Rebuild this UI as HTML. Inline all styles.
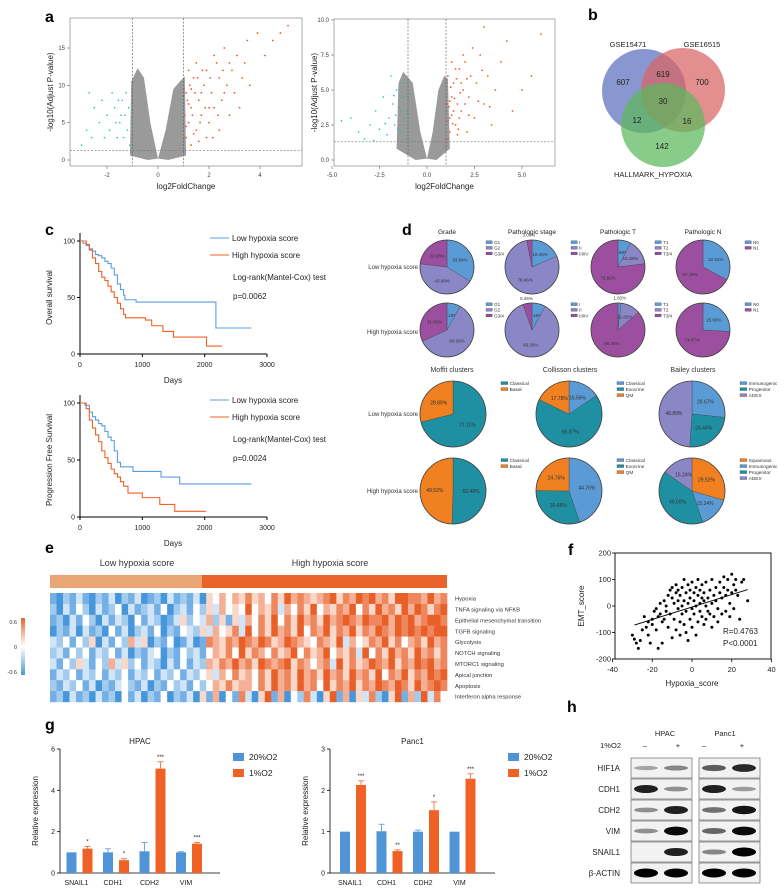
<!DOCTYPE html>
<html><head><meta charset="utf-8"><style>
html,body{margin:0;padding:0;background:#fff;}
svg{display:block;font-family:"Liberation Sans",Arial,sans-serif;}
</style></head><body>
<svg id="fig" width="784" height="888" viewBox="0 0 784 888" xmlns="http://www.w3.org/2000/svg"></svg>
<script>
// ===== DATA =====
const volLOrange = [[1.1,3],[1.2,5],[1.3,7],[1.1,9],[1.4,11],[1.5,4],[1.6,8],[1.7,6],[1.8,10],[1.9,12],[2.0,5],[2.1,9],[2.2,7],[2.3,13],[2.4,11],[2.5,8],[2.6,15],[2.7,10],[2.8,6],[2.9,12],[3.0,9],[3.1,14],[3.3,11],[3.5,16],[3.6,10],[3.9,17],[4.2,14],[4.5,16],[4.8,17],[5.1,18],[1.2,12],[1.3,2],[1.5,13],[1.6,2.5],[1.9,3],[2.2,14],[2.4,4],[1.05,6],[1.15,8],[1.25,10],[1.35,6],[1.45,9],[1.55,11],[1.65,5],[1.75,12],[1.85,7],[2.05,11],[2.15,3],[2.35,6],[2.55,12],[3.2,7],[3.4,13],[1.1,4.5],[1.2,7.5],[1.3,9.5],[1.4,3.5],[1.7,9],[2.0,7],[2.6,9],[2.8,13]];
const volLCyan = [[-1.1,2],[-1.2,4],[-1.3,6],[-1.4,8],[-1.5,5],[-1.6,3],[-1.7,7],[-1.8,9],[-1.9,4],[-2.0,6],[-2.1,3],[-2.3,5],[-2.5,7],[-2.7,9],[-2.8,4],[-3.0,2],[-1.15,7],[-1.25,9],[-1.35,3],[-1.45,6],[-1.55,8],[-1.65,5],[-2.2,8],[-2.6,3],[-1.05,5]];
const volLGrayLeft = [[-1.1,0.6],[-1.05,10.5],[-0.8,12.3],[-0.55,11],[-0.3,5],[0,0.2],[-0.4,0]];
const volLGrayRight = [[0,0.2],[0.3,4],[0.6,9.5],[0.85,10.5],[1.05,11.2],[1.1,0.6],[0.4,0]];
const volROrange = [[1.1,1.5],[1.2,3],[1.3,4.5],[1.1,6],[1.4,5.5],[1.5,2.5],[1.6,4],[1.7,6.5],[1.8,3.5],[1.9,5],[2.0,7],[2.1,2],[2.2,4.5],[2.3,6],[2.4,8],[2.5,3],[2.6,5.5],[2.8,7.5],[3.0,4],[3.2,6],[3.4,2.5],[3.6,5],[3.9,7],[4.2,8.5],[4.5,3.5],[5.0,5],[5.5,6],[6.0,9],[3.0,9.5],[1.2,2],[1.3,7],[1.4,3.5],[1.5,6.5],[1.6,1.8],[1.7,3],[1.8,5.5],[1.9,7.5],[2.0,4],[2.1,5.8],[2.2,3.2],[1.15,3.8],[1.25,5.2],[1.35,2.6],[1.45,4.4],[1.55,5.8],[1.65,2.2],[1.75,4.8],[2.7,4.2],[2.9,6.4],[3.3,3.8],[1.05,4],[1.1,2.8],[1.2,4.2],[1.3,3.2]];
const volRCyan = [[-1.1,1.5],[-1.2,3],[-1.3,4.5],[-1.4,2],[-1.5,3.8],[-1.6,5],[-1.7,2.5],[-1.8,4],[-1.9,6],[-2.0,3],[-2.1,1.8],[-2.3,4.5],[-2.5,2.2],[-2.7,3.5],[-3.0,2.5],[-3.3,1.5],[-3.6,2],[-4.0,3],[-4.5,2.8],[-1.15,2.5],[-1.25,5.5],[-1.35,3.5],[-1.45,5],[-1.55,2.2],[-1.65,3.2],[-1.75,4.6],[-2.2,2.6],[-1.05,3.4],[-1.1,4.6],[-2.8,1.4]];
const volRGrayLeft = [[-1.6,0.8],[-1.5,5.5],[-1.25,6.3],[-0.75,5.5],[-0.35,2],[0,0.1],[-0.6,0]];
const volRGrayRight = [[0,0.1],[0.3,2],[0.6,5],[0.9,6],[1.1,5.8],[1.2,0.8],[0.5,0]];
const vennLabels = ["607","619","700","30","12","16","142"];
const kmOSLow = [[0,100],[50,98],[100,96],[150,93],[200,91],[250,88],[300,87],[350,85],[400,82],[450,80],[500,76],[550,70],[600,62],[650,57],[700,52],[720,48],[900,46],[2180,46],[2180,23],[2750,23]];
const kmOSHigh = [[0,100],[100,97],[150,92],[200,85],[250,80],[300,73],[350,68],[400,65],[450,60],[500,55],[550,50],[600,45],[650,40],[700,35],[730,32],[1000,32],[1050,30],[1150,25],[1330,25],[1330,20],[1500,15],[2030,15],[2030,7],[2280,7]];
const kmPFSLow = [[0,100],[80,98],[150,92],[200,88],[250,85],[300,82],[350,80],[400,75],[450,70],[500,67],[550,58],[600,48],[650,44],[850,40],[1300,40],[1300,35],[1600,35],[1600,29],[2750,29]];
const kmPFSHigh = [[0,100],[100,95],[150,85],[200,78],[250,72],[300,66],[350,58],[400,52],[450,47],[500,42],[550,38],[600,35],[650,31],[700,27],[770,21],[1000,17],[1280,17],[1280,11],[1520,11],[1520,5],[2020,5]];
const kmXTicks = [0,1000,2000,3000];
const kmYTicks = [0,50,100];
const gradeLow=[33.84,43.08,23.08], gradeHigh=[8.18,60.00,31.82];
const stageLow=[18.46,78.46,3.08], stageHigh=[8.18,86.36,5.45];
const tLow=[7.69,15.38,76.92], tHigh=[1.82,11.82,86.36];
const nLow=[32.81,67.19], nHigh=[25.93,74.07];
const moffitLow=[71.11,28.89], moffitHigh=[50.48,49.52];
const collLow=[15.56,66.67,17.78], collHigh=[44.76,30.48,24.76];
const baileyLow=[26.67,24.44,48.89], baileyHigh=[29.52,15.24,40.00,15.24];
const heatRows = ["Hypoxia","TNFA signaling via NFKB","Epithelial mesenchymal transition","TGFB signaling","Glycolysis","NOTCH signaling","MTORC1 signaling","Apical junction","Apoptosis","Interferon alpha response"];
const heatVals = [
"1021310213021301203121305464657564758676567857687867588776867",
"2031420312403123140231425364548465736475846576847586758687578",
"1203142031320413201352436251536475847586758678768778687867887",
"0213031204130231402143253645738475867584768576857687687878788",
"3241425031426350214013017657687687568765476583645768574675867",
"2314241324130213402142314657485764756847568465738475867586757",
"3142531426352413203141326576867587678576467385756876857687867",
"1324132413241324132413245364756475867586758675867584768576878",
"2132413021342130214231424657566475867586748576857687687586787",
"1203120312041302140213051604173058160427305816053720581628374"];
const scatHyp = [-30,-29,-28,-27,-26,-25,-24,-23,-22,-22,-21,-20,-20,-19,-18,-18,-17,-17,-16,-16,-15,-15,-14,-14,-13,-13,-12,-12,-11,-11,-10,-10,-10,-9,-9,-8,-8,-8,-7,-7,-7,-6,-6,-6,-5,-5,-5,-4,-4,-4,-3,-3,-3,-2,-2,-2,-1,-1,-1,0,0,0,1,1,1,2,2,2,3,3,3,4,4,4,5,5,5,6,6,6,7,7,7,8,8,9,9,10,10,10,11,11,12,12,13,13,14,14,15,15,16,16,17,17,18,18,19,19,20,20,21,21,22,22,23,24,25,26,28];
const scatEMT = [-110,-125,-140,-160,-130,-90,-40,-80,-60,-110,-140,-50,-70,-20,-90,-10,-160,-40,-30,10,-60,-140,20,-50,0,-20,40,-80,60,-30,30,-120,70,10,-50,80,50,-90,20,-10,60,40,-60,-110,70,0,-30,100,-70,20,50,-100,-20,80,-130,10,30,-50,60,-10,90,-80,20,-30,50,70,0,-110,40,-60,100,10,-20,60,-40,30,80,-70,20,50,0,-50,90,30,-20,60,-30,100,10,-80,40,-40,70,20,-10,-60,50,90,30,-30,70,110,-20,40,60,100,10,-40,120,50,80,-10,100,60,40,-50,90,100,20];
const fitLine = [[-29,-72],[28,62]];
const geneCats = ["SNAIL1","CDH1","CDH2","VIM"];
const hpacNorm=[1.0,1.0,1.05,1.0], hpacNormErr=[0,0.17,0.42,0.03];
const hpacHyp=[1.18,0.62,5.05,1.42], hpacHypErr=[0.1,0.07,0.33,0.05], hpacSig=["*","*","***","***"];
const panNorm=[1.0,1.01,1.0,1.0], panNormErr=[0,0.17,0.04,0];
const panHyp=[2.13,0.53,1.52,2.28], panHypErr=[0.1,0.03,0.2,0.12], panSig=["***","**","*","***"];
const hpacTicks=[0,2,4,6], panTicks=[0,1,2,3];
const blotRows=["HIF1A","CDH1","CDH2","VIM","SNAIL1","β-ACTIN"];
const blotHPAC=[[0.2,0.35],[0.85,0.3],[0.3,0.85],[0.3,0.95],[0,0.85],[1,1]];
const blotPanc=[[0.55,0.8],[0.85,0.25],[0.45,0.9],[0.5,0.95],[0.35,1],[1,1]];

// ===== HELPERS =====
const NS="http://www.w3.org/2000/svg";
const svg=document.getElementById('fig');
function mk(tag,attrs,parent){const e=document.createElementNS(NS,tag);for(const k in attrs)e.setAttribute(k,attrs[k]);(parent||svg).appendChild(e);return e;}
function txt(x,y,s,size,name,opts){opts=opts||{};const e=mk('text',{x:x,y:y,'font-size':size,fill:opts.fill||'#222','text-anchor':opts.anchor||'start'},opts.parent);
if(opts.bold)e.setAttribute('font-weight','bold');
if(opts.rot)e.setAttribute('transform','rotate(-90 '+x+' '+y+')');
e.textContent=s;


return e;}
function line(x1,y1,x2,y2,st,w,name,dash){const e=mk('line',{x1:x1,y1:y1,x2:x2,y2:y2,stroke:st,'stroke-width':w});if(dash)e.setAttribute('stroke-dasharray',dash);


return e;}

[['a',45,22],['b',588,20],['c',45,235],['d',402,235],['e',45,553],['f',568,555],['g',45,730],['h',567,712]].forEach(p=>{txt(p[1],p[2],p[0],16,'panel-label-'+p[0],{bold:true,fill:'#000'});});

// ===== VOLCANO =====
function volcano(box,xs,ys,xt,yt,xtl,ytl,orange,cyan,grays,vlines,hline,tag){
 const sx=v=>box.x0+(v-xs[0])*(box.x1-box.x0)/(xs[1]-xs[0]);
 const sy=v=>box.y0-(v-ys[0])*(box.y0-box.y1)/(ys[1]-ys[0]);
 const r=mk('rect',{x:box.l,y:box.t,width:box.r-box.l,height:box.b-box.t,fill:'#fff',stroke:'#999','stroke-width':0.8});
 
 
 grays.forEach(gray=>{
  const g=mk('polygon',{points:gray.map(p=>sx(p[0])+','+sy(p[1])).join(' '),fill:'#9a9a9a'});
  
  });
 orange.forEach(p=>{const c=mk('circle',{cx:sx(p[0]),cy:sy(p[1]),r:0.9,fill:'#f05a28'});
  
  });
 cyan.forEach(p=>{const c=mk('circle',{cx:sx(p[0]),cy:sy(p[1]),r:0.8,fill:'#2ab7c0'});
  
  });
 vlines.forEach(v=>line(sx(v),box.t,sx(v),box.b,'#555',0.6,tag+'-fc-threshold','2,1.5'));
 line(box.l,sy(hline),box.r,sy(hline),'#777',0.6,tag+'-p-threshold','2,1.5');
 xt.forEach((v,i)=>{line(sx(v),box.b,sx(v),box.b+3,'#666',0.6,tag+'-x-tick');txt(sx(v),box.b+11,xtl[i],6,tag+'-x-tick-label',{anchor:'middle',fill:'#444'});});
 yt.forEach((v,i)=>{line(box.l-3,sy(v),box.l,sy(v),'#666',0.6,tag+'-y-tick');txt(box.l-5,sy(v)+2,ytl[i],6,tag+'-y-tick-label',{anchor:'end',fill:'#444'});});
 txt((box.l+box.r)/2,box.b+23,'log2FoldChange',8,tag+'-x-axis-title',{anchor:'middle'});
 txt(box.l-17,(box.t+box.b)/2,'-log10(Adjust P-value)',8,tag+'-y-axis-title',{anchor:'middle',rot:true});
}
volcano({l:70,r:302,t:18,b:166,x0:158,x1:209,y0:160,y1:48},[0,2],[0,15],[-2,0,2,4],[0,5,10,15],['-2','0','2','4'],['0','5','10','15'],volLOrange,volLCyan,[volLGrayLeft,volLGrayRight],[-1,1],1.3,'volcano-left');
volcano({l:334,r:555,t:19,b:166,x0:427,x1:522,y0:160,y1:20},[0,5],[0,10],[-5,-2.5,0,2.5,5],[0,2.5,5,7.5,10],['-5.0','-2.5','0.0','2.5','5.0'],['0.0','2.5','5.0','7.5','10.0'],volROrange,volRCyan,[volRGrayLeft,volRGrayRight],[-1,1],1.3,'volcano-right');

// ===== VENN =====
[[644,91,'#5b6fbf','circle-gse15471'],[683,90,'#d96464','circle-gse16515'],[663,125,'#5cb85c','circle-hallmark-hypoxia']].forEach(c=>{
 const e=mk('circle',{cx:c[0],cy:c[1],r:42,fill:c[2],'fill-opacity':0.72});
 
 });
txt(628,47,'GSE15471',7.5,'venn-label-gse15471',{anchor:'middle'});
txt(702,47,'GSE16515',7.5,'venn-label-gse16515',{anchor:'middle'});
txt(653,177,'HALLMARK_HYPOXIA',7.5,'venn-label-hallmark',{anchor:'middle'});
[[623,85],[663,77],[702,85],[663,104],[637,123],[687,124],[662,149]].forEach((p,i)=>txt(p[0],p[1],vennLabels[i],8,'venn-count',{anchor:'middle'}));

// ===== KM =====
function km(y0,y100,low,high,ylab,pval,tag){
 const sx=v=>80+v*(267-80)/3000, sy=v=>y0-v*(y0-y100)/100;
 line(80,y100-8,80,y0,'#000',1,tag+'-y-axis');line(80,y0,267,y0,'#000',1,tag+'-x-axis');
 kmXTicks.forEach(v=>{line(sx(v),y0,sx(v),y0+3,'#000',1,tag+'-x-tick');txt(sx(v),y0+13,String(v),7,tag+'-x-tick-label',{anchor:'middle'});});
 kmYTicks.forEach(v=>{line(77,sy(v),80,sy(v),'#000',1,tag+'-y-tick');txt(75,sy(v)+2.5,String(v),7,tag+'-y-tick-label',{anchor:'end'});});
 txt(173,y0+29,'Days',8,tag+'-x-axis-title',{anchor:'middle'});
 txt(52,(y0+y100)/2,ylab,8,tag+'-y-axis-title',{anchor:'middle',rot:true});
 [[low,'#5a9ee0','low'],[high,'#f06125','high']].forEach(s=>{
  let d='M'+sx(s[0][0][0])+','+sy(s[0][0][1]);
  for(let i=1;i<s[0].length;i++){d+=' H'+sx(s[0][i][0])+' V'+sy(s[0][i][1]);}
  const p=mk('path',{d:d,fill:'none',stroke:s[1],'stroke-width':1.1});
  
  });
 line(210,y100-3,229,y100-3,'#5a9ee0',1,tag+'-legend-low-swatch');
 txt(232,y100,'Low hypoxia score',8,tag+'-legend-low');
 line(210,y100+14,229,y100+14,'#f06125',1,tag+'-legend-high-swatch');
 txt(232,y100+17,'High hypoxia score',8,tag+'-legend-high');
 txt(233,y100+39,'Log-rank(Mantel-Cox) test',8,tag+'-test-label');
 txt(233,y100+58,pval,8,tag+'-p-value');
}
km(354,241,kmOSLow,kmOSHigh,'Overall survival','p=0.0062','km-os');
km(517,403,kmPFSLow,kmPFSHigh,'Progression Free Survival','p=0.0024','km-pfs');

// ===== PIES =====
function pie(cx,cy,r,vals,cols,tag,fs){
 let a=-Math.PI/2;const tot=vals.reduce((s,v)=>s+v,0);
 vals.forEach((v,i)=>{const a2=a+v/tot*2*Math.PI;
  const x1=cx+r*Math.cos(a),y1=cy+r*Math.sin(a),x2=cx+r*Math.cos(a2),y2=cy+r*Math.sin(a2);
  const big=(a2-a)>Math.PI?1:0;
  const p=mk('path',{d:`M${cx},${cy} L${x1},${y1} A${r},${r} 0 ${big} 1 ${x2},${y2} Z`,fill:cols[i],stroke:'#333','stroke-width':0.3});
  
  
  const m=(a+a2)/2, lr=v<6?r+5:r*0.55;
  txt(cx+lr*Math.cos(m),cy+lr*Math.sin(m)+1.5,v.toFixed(2)+'%',fs,tag+'-slice-label',{anchor:'middle',fill:'#333'});
  a=a2;});
 const o=mk('circle',{cx:cx,cy:cy,r:r,fill:'none',stroke:'#444','stroke-width':0.8});
 
 
}
function legend(x,y,items,cols,fs,tag){items.forEach((s,i)=>{const r=mk('rect',{x:x,y:y+i*fs*1.25-fs*0.7,width:fs*1.4,height:fs*0.6,fill:cols[i],stroke:'#333','stroke-width':0.3});
 
 
 txt(x+fs*1.8,y+i*fs*1.25,s,fs,tag+'-legend-label',{fill:'#333'});});}
const B='#5b9bd5',L='#8b86c6',P='#9c4f9f',T='#1f8fa2',O='#f08020';
txt(447,234,'Grade',6.5,'pie-title-grade',{anchor:'middle'});
txt(532,234,'Pathologic stage',6.5,'pie-title-stage',{anchor:'middle'});
txt(618,234,'Pathologic T',6.5,'pie-title-t',{anchor:'middle'});
txt(703,234,'Pathologic N',6.5,'pie-title-n',{anchor:'middle'});
[[267,'Low hypoxia score'],[332,'High hypoxia score'],[414,'Low hypoxia score'],[491,'High hypoxia score']].forEach(r=>txt(418,r[0]+2,r[1],6,'pie-row-label',{anchor:'end',fill:'#333'}));
pie(447,267,27,gradeLow,[B,L,P],'grade-low',4.5);pie(447,330,27,gradeHigh,[B,L,P],'grade-high',4.5);
pie(532,267,27,stageLow,[B,L,P],'stage-low',4.5);pie(532,330,27,stageHigh,[B,L,P],'stage-high',4.5);
pie(618,267,27,tLow,[B,L,P],'t-low',4.5);pie(618,330,27,tHigh,[B,L,P],'t-high',4.5);
pie(703,267,27,nLow,[B,P],'n-low',4.5);pie(703,330,27,nHigh,[B,P],'n-high',4.5);
legend(486,244,['G1','G2','G3/4'],[B,L,P],4.5,'grade-low');legend(486,306,['G1','G2','G3/4'],[B,L,P],4.5,'grade-high');
legend(571,244,['I','II','III/IV'],[B,L,P],4.5,'stage-low');legend(571,306,['I','II','III/IV'],[B,L,P],4.5,'stage-high');
legend(655,244,['T1','T2','T3/4'],[B,L,P],4.5,'t-low');legend(655,306,['T1','T2','T3/4'],[B,L,P],4.5,'t-high');
legend(745,244,['N0','N1'],[B,P],4.5,'n-low');legend(745,306,['N0','N1'],[B,P],4.5,'n-high');
txt(452,372,'Moffit  clusters',7,'pie-title-moffit',{anchor:'middle',fill:'#333'});
txt(570,372,'Collisson clusters',7,'pie-title-collisson',{anchor:'middle',fill:'#333'});
txt(693,372,'Bailey clusters',7,'pie-title-bailey',{anchor:'middle',fill:'#333'});
pie(453,414,33,moffitLow,[T,O],'moffit-low',5);pie(453,491,33,moffitHigh,[T,O],'moffit-high',5);
pie(569,414,33,collLow,[B,T,O],'collisson-low',5);pie(569,491,33,collHigh,[B,T,O],'collisson-high',5);
pie(692,414,33,baileyLow,[B,T,L],'bailey-low',5);pie(692,491,33,baileyHigh,[O,B,T,L],'bailey-high',5);
legend(501,385,['Classical','Basal'],[T,O],4.8,'moffit-low');legend(501,462,['Classical','Basal'],[T,O],4.8,'moffit-high');
legend(617,385,['Classical','Exocrine','QM'],[B,T,O],4.8,'collisson-low');legend(617,462,['Classical','Exocrine','QM'],[B,T,O],4.8,'collisson-high');
legend(740,385,['Immunogenic','Progenitor','ADEX'],[B,T,L],4.8,'bailey-low');legend(740,462,['Squamous','Immunogenic','Progenitor','ADEX'],[O,B,T,L],4.8,'bailey-high');

// ===== HEATMAP =====
function heatColor(d){const v=(d-4)/4;
 if(v<0){const t=-v;return `rgb(${Math.round(255-(255-70)*t)},${Math.round(255-(255-150)*t)},${Math.round(255-(255-220)*t)})`;}
 const t=v;return `rgb(${Math.round(255-(255-232)*t)},${Math.round(255-(255-95)*t)},${Math.round(255-(255-40)*t)})`;}
const hx0=50,hx1=447,hy0=593,hy1=702,hsplit=202;
txt(137,566,'Low hypoxia score',9,'heatmap-group-low-title',{anchor:'middle',fill:'#333'});
txt(330,566,'High hypoxia score',9,'heatmap-group-high-title',{anchor:'middle',fill:'#333'});
(function(){const a=mk('rect',{x:hx0,y:575,width:hsplit-hx0,height:13,fill:'#eaa574'});


const b=mk('rect',{x:hsplit,y:575,width:hx1-hsplit,height:13,fill:'#e8622a'});

})();
const rh=(hy1-hy0)/heatVals.length;
heatVals.forEach((row,ri)=>{const n=row.length,cw=(hx1-hx0)/n;
 for(let ci=0;ci<n;ci++){const c=mk('rect',{x:hx0+ci*cw,y:hy0+ri*rh,width:cw+0.3,height:rh+0.2,fill:heatColor(+row[ci])});
  
  }
 txt(455,hy0+ri*rh+rh*0.7,heatRows[ri],5.8,'heatmap-row-label',{fill:'#333'});});
(function(){const d=mk('defs',{});const lg=mk('linearGradient',{id:'hg',x1:0,y1:0,x2:0,y2:1},d);
mk('stop',{offset:'0','stop-color':'#e8622a'},lg);mk('stop',{offset:'0.5','stop-color':'#fff'},lg);mk('stop',{offset:'1','stop-color':'#4a98dc'},lg);
const r=mk('rect',{x:21,y:618,width:4,height:57,fill:'url(#hg)'});

})();
txt(17,624,'0.6',5.5,'color-scale-label',{anchor:'end',fill:'#333'});
txt(17,649,'0',5.5,'color-scale-label',{anchor:'end',fill:'#333'});
txt(17,674,'-0.6',5.5,'color-scale-label',{anchor:'end',fill:'#333'});

// ===== SCATTER f =====
(function(){const sx=v=>692+v*(771-612)/80, sy=v=>606-v*26.5/100;
const r=mk('rect',{x:615,y:553,width:156,height:106,fill:'none',stroke:'#000','stroke-width':0.9});


[-40,-20,0,20,40].forEach(v=>{line(sx(v),659,sx(v),662,'#000',0.8,'scatter-x-tick');txt(sx(v),672,String(v),7.5,'scatter-x-tick-label',{anchor:'middle'});});
[-200,-100,0,100,200].forEach(v=>{line(612,sy(v),615,sy(v),'#000',0.8,'scatter-y-tick');txt(611,sy(v)+2.5,String(v),7.5,'scatter-y-tick-label',{anchor:'end'});});
txt(692,686,'Hypoxia_score',8,'scatter-x-axis-title',{anchor:'middle'});
txt(584,606,'EMT_score',8,'scatter-y-axis-title',{anchor:'middle',rot:true});
scatHyp.forEach((h,i)=>{const c=mk('circle',{cx:sx(h),cy:sy(scatEMT[i]),r:1.5,fill:'#000'});
 
 });
line(sx(fitLine[0][0]),sy(fitLine[0][1]),sx(fitLine[1][0]),sy(fitLine[1][1]),'#000',0.9,'regression-line');
txt(723,634,'R=0.4763',8,'correlation-r');
txt(723,646,'P<0.0001',8,'correlation-p');})();

// ===== BARS g =====
function bars(ax,axEnd,ymax,ticks,norm,nerr,hyp,herr,sig,title,tag,gx0){
 const y0=873,yT=749,sy=v=>y0-v*(y0-yT)/ymax;
 line(ax,yT,ax,y0,'#000',0.8,tag+'-y-axis');line(ax,y0,axEnd,y0,'#000',0.8,tag+'-x-axis');
 ticks.forEach(v=>{line(ax-3,sy(v),ax,sy(v),'#000',0.8,tag+'-y-tick');txt(ax-5,sy(v)+2.5,String(v),7,tag+'-y-tick-label',{anchor:'end'});});
 txt((ax+axEnd)/2,744,title,8,tag+'-title',{anchor:'middle'});
 txt(ax-22,811,'Relative expression',8,tag+'-y-axis-title',{anchor:'middle',rot:true});
 geneCats.forEach((g,i)=>{const gc=gx0+i*36.5;
  [[norm[i],nerr[i],'#4f94d6',-13],[hyp[i],herr[i],'#f06125',3]].forEach((b,j)=>{
   const x=gc+b[3];
   const r=mk('rect',{x:x,y:sy(b[0]),width:10,height:y0-sy(b[0]),fill:b[2]});
   
   
   if(b[1]>0){line(x+5,sy(b[0]),x+5,sy(b[0]+b[1]),b[2],0.8,tag+'-error-bar');line(x+2,sy(b[0]+b[1]),x+8,sy(b[0]+b[1]),b[2],0.8,tag+'-error-cap');}});
  txt(gc+8,sy(hyp[i]+herr[i])-3,sig[i],6,tag+'-significance',{anchor:'middle'});
  txt(gc-3,885,g,7,tag+'-x-tick-label',{anchor:'middle'});});
 [['20%O2','#4f94d6',0],['1%O2','#f06125',16]].forEach(l=>{const r=mk('rect',{x:axEnd+13,y:753+l[2],width:11,height:8,fill:l[1]});
  
  
  txt(axEnd+29,760+l[2],l[0],8.5,tag+'-legend-label');});
}
bars(60,220,6,hpacTicks,hpacNorm,hpacNormErr,hpacHyp,hpacHypErr,hpacSig,'HPAC','hpac',79.5);
bars(330,495,3,panTicks,panNorm,panNormErr,panHyp,panHypErr,panSig,'Panc1','panc1',353);

// ===== BLOT h =====
txt(665,736,'HPAC',7.5,'blot-title-hpac',{anchor:'middle'});
txt(725,736,'Panc1',7.5,'blot-title-panc1',{anchor:'middle'});
txt(621,748,'1%O2',7.5,'blot-condition-label',{anchor:'end'});
[[645,'–'],[678,'+'],[704,'–'],[742,'+']].forEach(m=>txt(m[0],748,m[1],7.5,'blot-condition-mark',{anchor:'middle'}));
blotRows.forEach((nm,ri)=>{const y=758+ri*21;
 txt(620,y+13,nm,8,'blot-row-label',{anchor:'end'});
 [[631,blotHPAC,[646,676]],[699,blotPanc,[714,744]]].forEach(g=>{
  const r=mk('rect',{x:g[0],y:y,width:61,height:20,fill:'#f2f2f2',stroke:'#555','stroke-width':0.6});
  
  
  g[1][ri].forEach((v,li)=>{if(v<=0)return;const e=mk('ellipse',{cx:g[2][li],cy:y+10,rx:12,ry:1.5+v*3,fill:'#000','fill-opacity':Math.min(1,0.15+v*0.85)});
   
   });});});
</script>
</body></html>
